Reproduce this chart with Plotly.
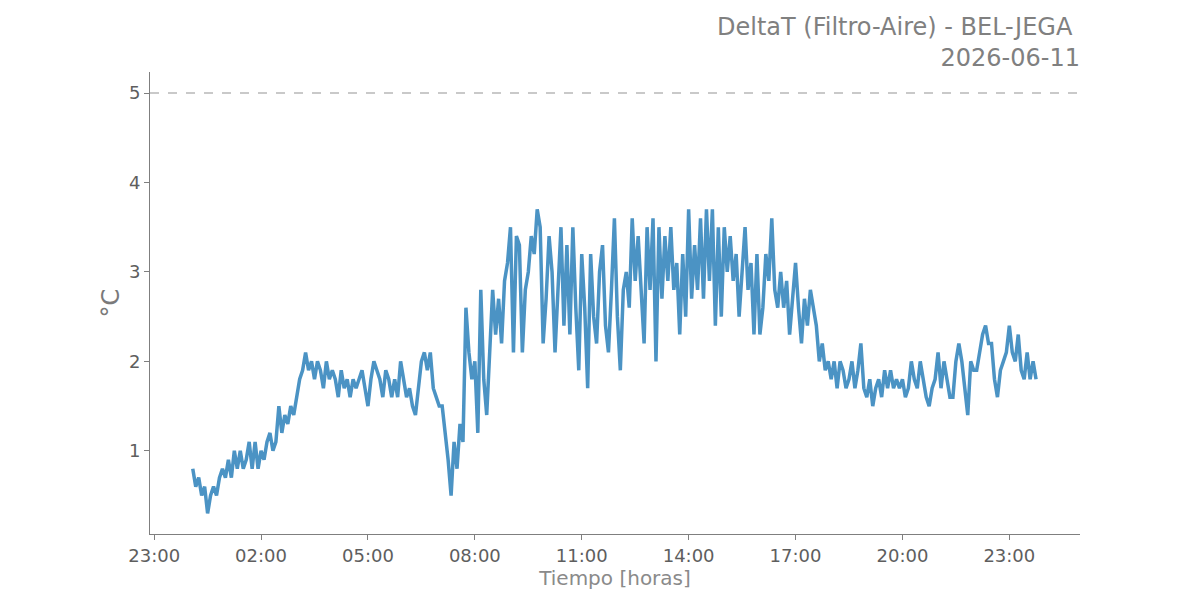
import pandas as pd
import plotly.graph_objects as go

# DeltaT readings every 5 minutes, one list per hour (00:05 ... 23:45)
H00 = [0.8, 0.6, 0.7, 0.5, 0.6, 0.3, 0.5, 0.6, 0.5, 0.7, 0.8, 0.7]
H01 = [0.9, 0.7, 1.0, 0.8, 1.0, 0.8, 0.9, 1.1, 0.8, 1.1, 0.8, 1.0]
H02 = [0.9, 1.1, 1.2, 1.0, 1.1, 1.5, 1.2, 1.4, 1.3, 1.5, 1.4, 1.6]
H03 = [1.8, 1.9, 2.1, 1.9, 2.0, 1.8, 2.0, 1.9, 1.7, 2.0, 1.8, 1.9]
H04 = [1.8, 1.6, 1.9, 1.7, 1.8, 1.6, 1.8, 1.7, 1.8, 1.9, 1.7, 1.5]
H05 = [1.8, 2.0, 1.9, 1.8, 1.6, 1.9, 1.8, 1.6, 1.8, 1.6, 2.0, 1.8]
H06 = [1.6, 1.7, 1.5, 1.4, 1.7, 2.0, 2.1, 1.9, 2.1, 1.7, 1.6, 1.5]
H07 = [1.5, 1.2, 0.9, 0.5, 1.1, 0.8, 1.3, 1.1, 2.6, 2.1, 1.8, 2.0]
H08 = [1.2, 2.8, 1.8, 1.4, 2.2, 2.8, 2.3, 2.7, 2.2, 2.9, 3.1, 3.5]
H09 = [2.1, 3.4, 3.3, 2.1, 2.8, 3.0, 3.4, 3.2, 3.7, 3.5, 2.2, 2.7]
H10 = [3.4, 3.0, 2.1, 2.9, 3.5, 2.4, 3.3, 2.3, 3.5, 2.6, 1.9, 3.2]
H11 = [2.6, 1.7, 3.2, 2.5, 2.2, 3.0, 3.3, 2.4, 2.1, 2.8, 3.6, 2.5]
H12 = [1.9, 2.8, 3.0, 2.6, 3.6, 2.9, 3.4, 2.8, 2.2, 3.5, 2.8, 3.6]
H13 = [2.0, 3.5, 2.7, 3.4, 2.9, 3.5, 2.8, 3.1, 2.3, 3.2, 2.5, 3.7]
H14 = [2.7, 3.3, 2.8, 3.6, 2.7, 3.7, 2.9, 3.7, 2.4, 3.5, 2.5, 3.5]
H15 = [3.0, 3.4, 2.9, 3.2, 2.5, 3.0, 3.5, 2.8, 3.1, 2.3, 3.2, 2.3]
H16 = [2.6, 3.2, 2.9, 3.6, 2.8, 2.6, 3.0, 2.6, 2.9, 2.3, 2.7, 3.1]
H17 = [2.6, 2.2, 2.7, 2.4, 2.8, 2.6, 2.4, 2.0, 2.2, 1.9, 2.0, 1.8]
H18 = [2.0, 1.7, 2.0, 1.9, 1.7, 1.8, 2.0, 1.7, 1.9, 2.2, 1.7, 1.6]
H19 = [1.8, 1.5, 1.7, 1.8, 1.6, 1.9, 1.7, 1.9, 1.7, 1.8, 1.7, 1.8]
H20 = [1.6, 1.7, 2.0, 1.8, 1.7, 2.0, 1.8, 1.6, 1.5, 1.7, 1.8, 2.1]
H21 = [1.7, 2.0, 1.8, 1.6, 1.6, 2.0, 2.2, 2.0, 1.7, 1.4, 2.0, 1.9]
H22 = [1.9, 2.1, 2.3, 2.4, 2.2, 2.2, 1.8, 1.6, 1.9, 2.0, 2.1, 2.4]
H23 = [2.1, 2.0, 2.3, 1.9, 1.8, 2.1, 1.8, 2.0, 1.8]

LIMIT = 5
TITLE = "DeltaT (Filtro-Aire) - BEL-JEGA <br>2026-06-11"

delta_t = (H00 + H01 + H02 + H03 + H04 + H05 + H06 + H07 + H08 + H09 + H10 + H11
           + H12 + H13 + H14 + H15 + H16 + H17 + H18 + H19 + H20 + H21 + H22 + H23)
times = pd.date_range("2026-06-11 00:05", periods=len(delta_t), freq="5min")

LINE_COLOR = "#4b93c4"
AXIS_COLOR = "#7f7f7f"
FONT = "DejaVu Sans"

fig = go.Figure()
fig.add_trace(go.Scatter(
    x=times, y=delta_t, mode="lines",
    line=dict(color=LINE_COLOR, width=3.5),
    showlegend=False,
))
fig.add_hline(y=LIMIT, line=dict(color="#b8b8b8", width=1.5, dash="dash"))

# the page body adds 8px, so margins are shifted to keep the plot box in place
fig.update_layout(
    width=1200, height=600,
    margin=dict(l=142, r=128, t=64, b=74),
    paper_bgcolor="white", plot_bgcolor="white",
    font=dict(family=FONT, size=18, color="#5e5e5e"),
    title=dict(
        text=TITLE, x=1, xanchor="right", xref="paper",
        y=0.955, yanchor="top",
        font=dict(family=FONT, size=24, color="#808080"),
    ),
)
fig.update_xaxes(
    range=["2026-06-10 22:53", "2026-06-12 00:59"],
    tick0="2026-06-10 23:00", dtick=3 * 3600 * 1000, tickformat="%H:%M",
    showline=True, linecolor=AXIS_COLOR, linewidth=1,
    ticks="outside", ticklen=5, tickcolor=AXIS_COLOR,
    showgrid=False, zeroline=False,
    title=dict(text="Tiempo [horas]", font=dict(size=20, color="#8a8a8a"), standoff=4),
)
fig.update_yaxes(
    range=[0.07, 5.235], dtick=1, tick0=0,
    showline=True, linecolor=AXIS_COLOR, linewidth=1,
    ticks="outside", ticklen=5, tickcolor=AXIS_COLOR,
    showgrid=False, zeroline=False,
    title=dict(text="°C", font=dict(size=24, color="#7a7a7a"), standoff=2),
)

fig.write_html("out.html")
